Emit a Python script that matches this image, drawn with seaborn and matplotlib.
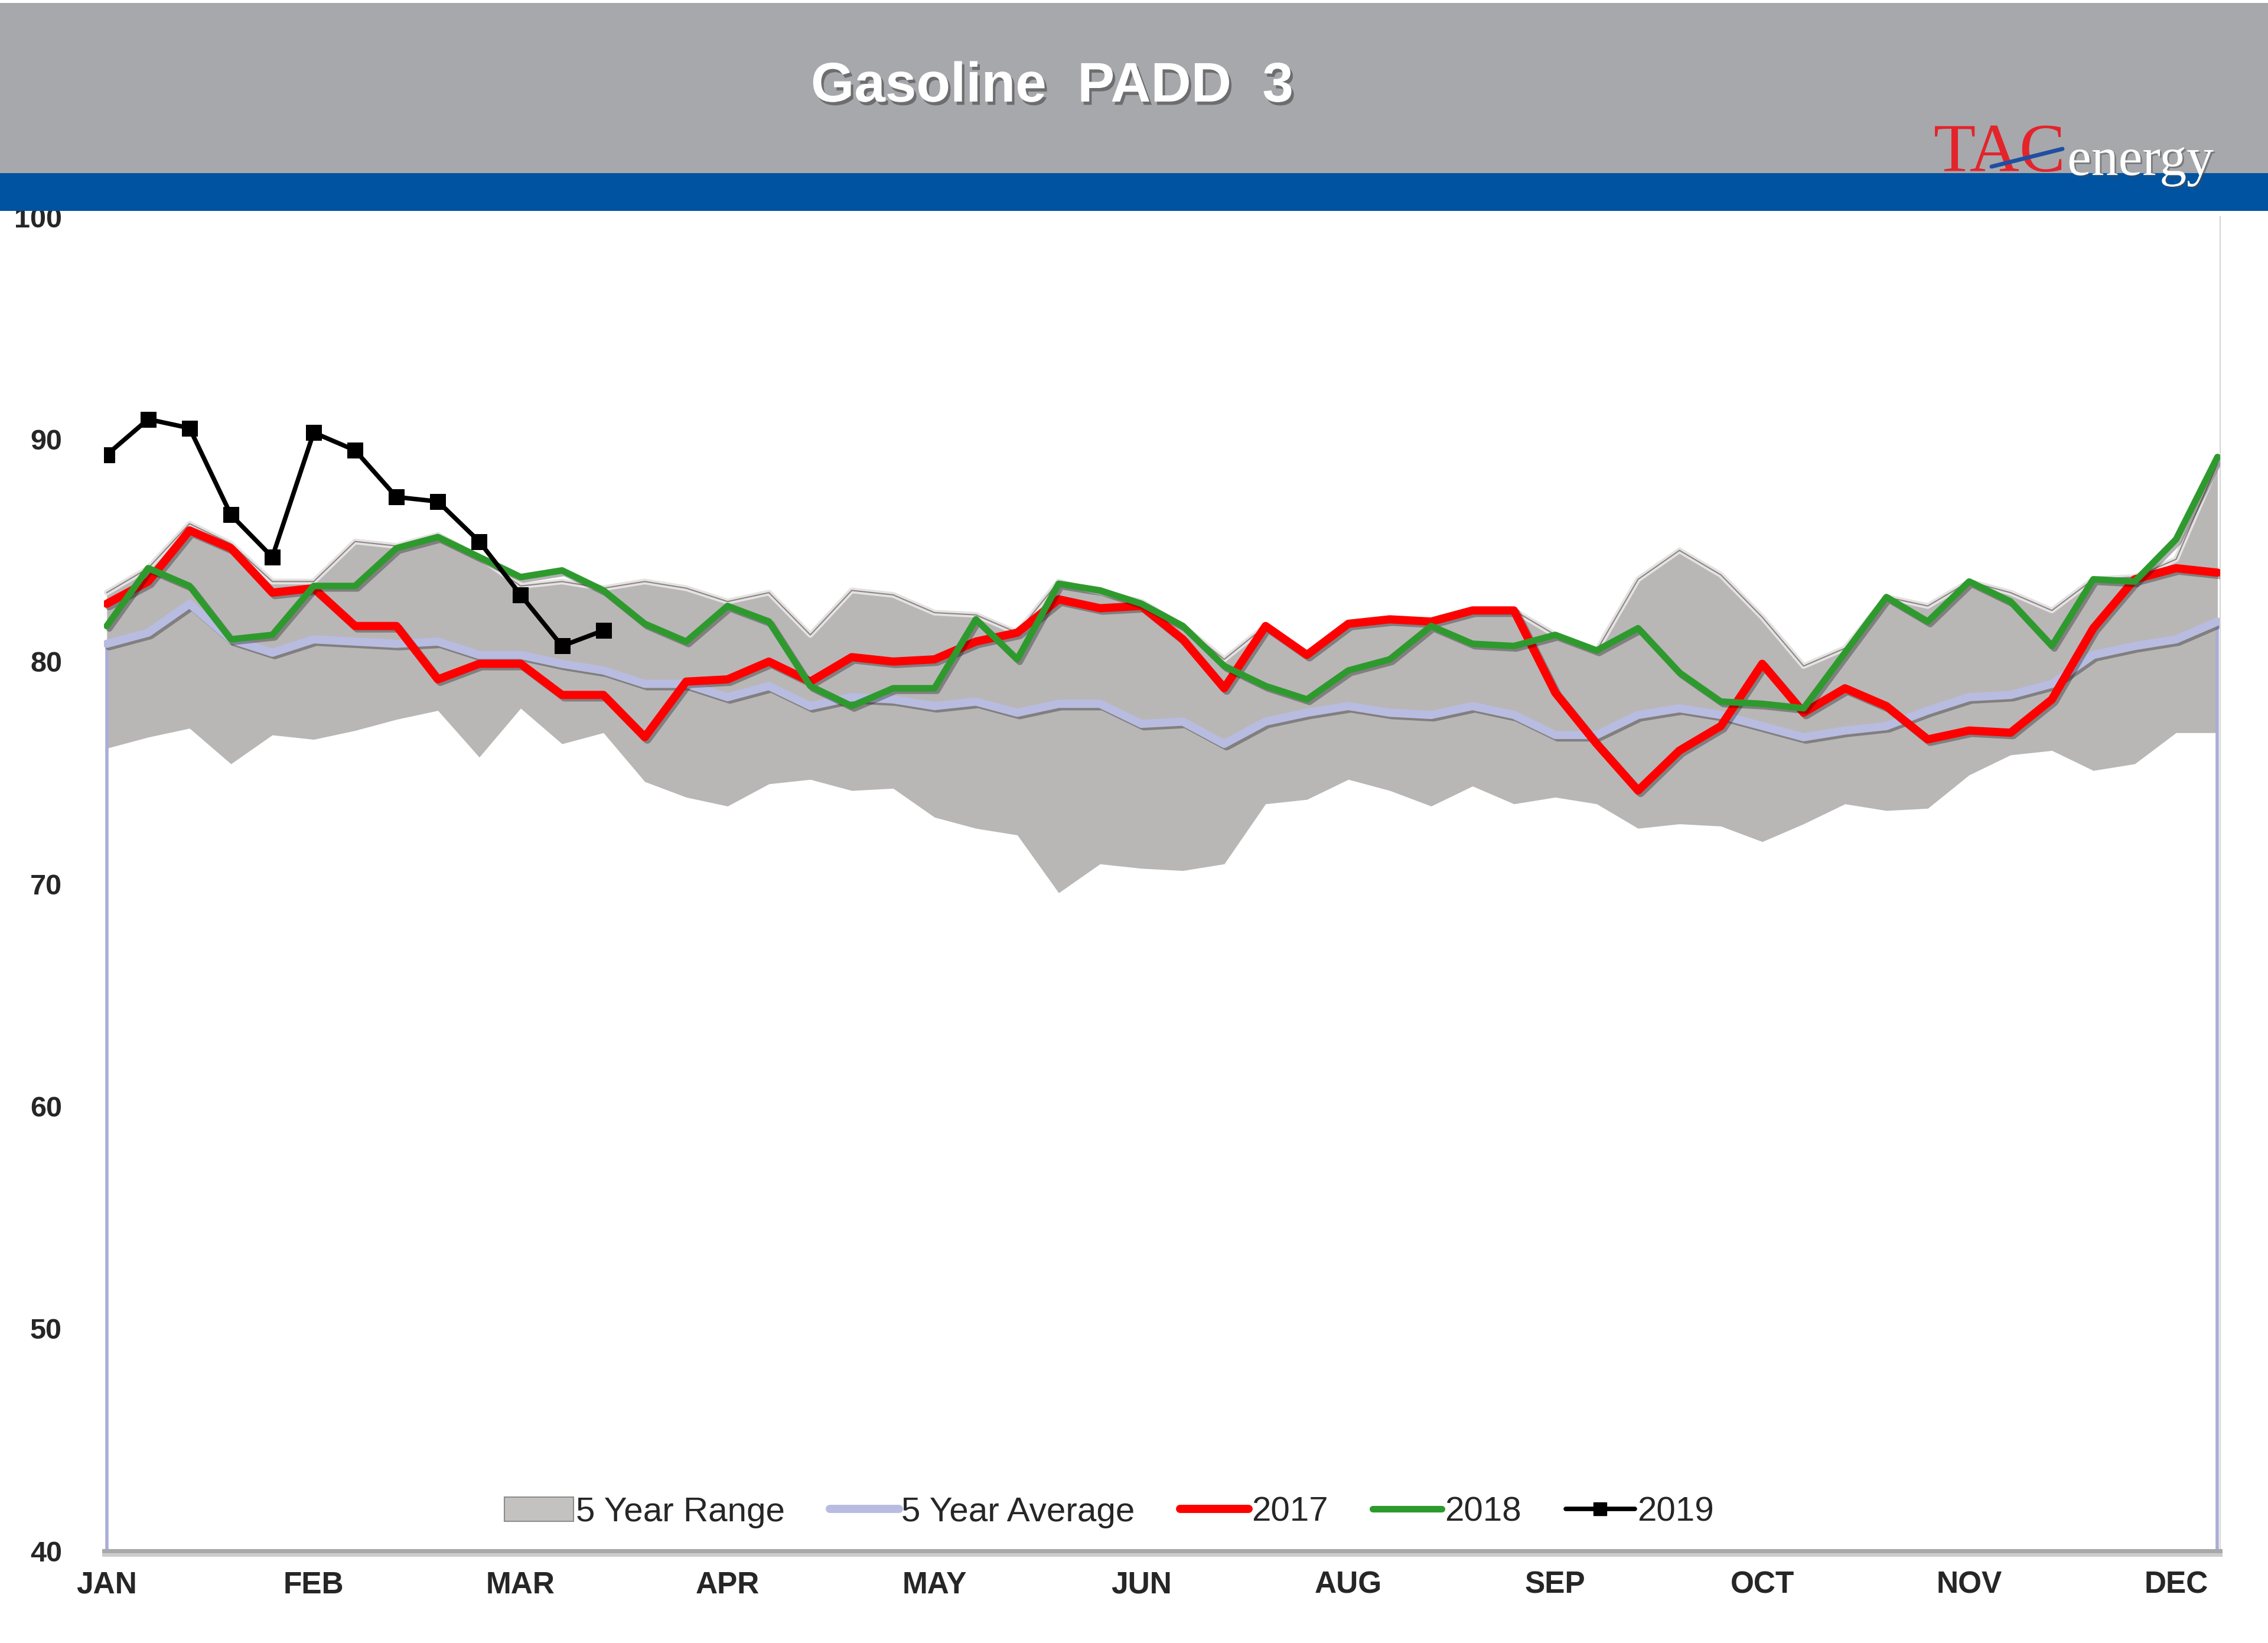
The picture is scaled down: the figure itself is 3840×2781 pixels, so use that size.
import numpy as np
import pandas as pd
import matplotlib
matplotlib.use("Agg")
import matplotlib.pyplot as plt
import matplotlib.patheffects as pe
from matplotlib.patches import Rectangle, Patch
from matplotlib.lines import Line2D
import seaborn as sns

sns.set_style("white")

# Weekly data, 52 weeks
weeks = np.arange(52)
month_labels = ["JAN", "FEB", "MAR", "APR", "MAY", "JUN", "AUG", "SEP", "OCT", "NOV", "DEC"]

range_high = [83.1, 84.2, 86.2, 85.3, 83.6, 83.6, 85.4, 85.2, 85.7, 84.7,
              83.4, 83.6, 83.3, 83.6, 83.3, 82.7, 83.1, 81.2, 83.2, 83.0,
              82.2, 82.1, 81.3, 83.6, 83.1, 82.7, 81.6, 80.1, 81.6, 80.3,
              81.7, 81.9, 81.8, 82.3, 82.3, 81.2, 80.5, 83.7, 85.0, 83.9,
              82.0, 79.8, 80.6, 82.9, 82.5, 83.6, 83.1, 82.3, 83.7, 83.8,
              84.6, 88.9]
range_low = [76.1, 76.6, 77.0, 75.4, 76.7, 76.5, 76.9, 77.4, 77.8, 75.7,
             77.9, 76.3, 76.8, 74.6, 73.9, 73.5, 74.5, 74.7, 74.2, 74.3,
             73.0, 72.5, 72.2, 69.6, 70.9, 70.7, 70.6, 70.9, 73.6, 73.8,
             74.7, 74.2, 73.5, 74.4, 73.6, 73.9, 73.6, 72.5, 72.7, 72.6,
             71.9, 72.7, 73.6, 73.3, 73.4, 74.9, 75.8, 76.0, 75.1, 75.4,
             76.8, 76.8]
avg5 = [80.8, 81.3, 82.6, 81.0, 80.4, 81.0, 80.9, 80.8, 80.9, 80.3,
        80.3, 79.9, 79.6, 79.0, 79.0, 78.4, 78.9, 78.0, 78.4, 78.3,
        78.0, 78.2, 77.7, 78.1, 78.1, 77.2, 77.3, 76.3, 77.3, 77.7,
        78.0, 77.7, 77.6, 78.0, 77.6, 76.7, 76.7, 77.6, 77.9, 77.6,
        77.1, 76.6, 76.9, 77.1, 77.8, 78.4, 78.5, 79.0, 80.3, 80.7,
        81.0, 81.8]
y2017 = [82.6, 83.6, 85.9, 85.1, 83.1, 83.3, 81.6, 81.6, 79.2, 79.9,
         79.9, 78.5, 78.5, 76.6, 79.1, 79.2, 80.0, 79.1, 80.2, 80.0,
         80.1, 80.9, 81.3, 82.8, 82.4, 82.5, 81.0, 78.8, 81.6, 80.3,
         81.7, 81.9, 81.8, 82.3, 82.3, 78.6, 76.3, 74.2, 76.0, 77.1,
         79.9, 77.7, 78.8, 78.0, 76.5, 76.9, 76.8, 78.3, 81.5, 83.7,
         84.2, 84.0]
y2018 = [81.6, 84.2, 83.4, 81.0, 81.2, 83.4, 83.4, 85.1, 85.6, 84.7,
         83.8, 84.1, 83.2, 81.7, 80.9, 82.5, 81.8, 78.9, 78.0, 78.8,
         78.8, 81.9, 80.1, 83.5, 83.2, 82.6, 81.6, 79.8, 78.9, 78.3,
         79.6, 80.1, 81.6, 80.8, 80.7, 81.2, 80.5, 81.5, 79.5, 78.2,
         78.1, 77.9, 80.4, 82.9, 81.8, 83.6, 82.7, 80.7, 83.7, 83.6,
         85.5, 89.2]
y2019 = [89.3, 90.9, 90.5, 86.6, 84.7, 90.3, 89.5, 87.4, 87.2, 85.4,
         83.0, 80.7, 81.4]

c_range = "#B9B6B6"
c_avg = "#B8BCE0"
c_2017 = "#FF0000"
c_2018 = "#2E9A2E"

fig = plt.figure(figsize=(38.4, 27.81), dpi=100)
ax = fig.add_axes([0.0458, 0.056, 0.979 - 0.0458, 0.868 - 0.056])

shadow = [pe.SimpleLineShadow(offset=(3, -3), alpha=0.3), pe.Normal()]

# 5 year range
ax.fill_between(weeks, range_low, range_high, color=c_range, lw=0, zorder=1)
ax.plot(weeks, range_high, color="#E4E2E2", lw=7, zorder=1.1,
        solid_joinstyle="round")
ax.plot(weeks, range_high, color="#8E8484", lw=1.5, zorder=1.2)

# 5 year average (with the Excel style drop lines at both ends)
ax.vlines([weeks[0], weeks[-1]], 40, [avg5[0], avg5[-1]], color="#A9ADD6", lw=4, zorder=1.5)
sns.lineplot(x=weeks, y=avg5, color=c_avg, linewidth=10, ax=ax, legend=False)
ax.lines[-1].set_path_effects(shadow)
ax.lines[-1].set_zorder(2)

sns.lineplot(x=weeks, y=y2017, color=c_2017, linewidth=10, ax=ax, legend=False)
ax.lines[-1].set_path_effects(shadow)
ax.lines[-1].set_zorder(3)
sns.lineplot(x=weeks, y=y2018, color=c_2018, linewidth=8, ax=ax, legend=False)
ax.lines[-1].set_path_effects(shadow)
ax.lines[-1].set_zorder(4)
sns.lineplot(x=weeks[:len(y2019)], y=y2019, color="black", linewidth=5.5,
             marker="s", markersize=19, markeredgecolor="black", ax=ax, legend=False)
ax.lines[-1].set_zorder(5)

ax.set_xlim(-0.07, 51.07)
ax.set_ylim(40, 100)
ax.set_yticks(range(40, 101, 10))
ax.set_xticks(weeks[::5])
ax.set_xticklabels(month_labels)
ax.set_xlabel("")
ax.set_ylabel("")
ax.tick_params(axis="y", length=0, pad=51, labelsize=35)
ax.tick_params(axis="x", length=0, pad=24, labelsize=37)
for lbl in ax.get_yticklabels() + ax.get_xticklabels():
    lbl.set_family(["Liberation Sans Narrow", "Liberation Sans", "DejaVu Sans"])
    lbl.set_weight("bold")
for lbl in ax.get_xticklabels():
    lbl.set_family(["Liberation Sans", "DejaVu Sans"])

for s in ["top", "left"]:
    ax.spines[s].set_visible(False)
ax.spines["right"].set_color("#D4D4D4")
ax.spines["right"].set_linewidth(1.5)
ax.spines["bottom"].set_color("#A8A8A8")
ax.spines["bottom"].set_linewidth(5)
ax.spines["bottom"].set_path_effects([pe.SimpleLineShadow(offset=(0, -4), alpha=0.2), pe.Normal()])

# legend
handles = [
    Patch(facecolor="#C4C1C1", edgecolor="#8C8C8C", linewidth=1.5),
    Line2D([], [], color=c_avg, lw=10),
    Line2D([], [], color=c_2017, lw=10),
    Line2D([], [], color=c_2018, lw=8),
    Line2D([], [], color="black", lw=5.5, marker="s", markersize=16),
]
leg = ax.legend(handles, ["5 Year Range", "5 Year Average", "2017", "2018", "2019"],
                loc="center", bbox_to_anchor=(0.475, 0.029), ncol=5, frameon=False,
                handlelength=2.0, handletextpad=0.08, columnspacing=1.3,
                prop={"family": ["Liberation Sans", "DejaVu Sans"], "size": 42})

# header bands
fig.add_artist(Rectangle((0, 1 - 293 / 2781), 1, (293 - 5) / 2781, transform=fig.transFigure,
                         facecolor="#A7A8AC", edgecolor="none", zorder=1))
fig.add_artist(Rectangle((0, 1 - 357 / 2781), 1, 64 / 2781, transform=fig.transFigure,
                         facecolor="#0053A1", edgecolor="none", zorder=1))

fig.text(0.464, 0.947, "Gasoline  PADD  3", color="white", fontsize=68, fontweight="bold",
         family=["Liberation Sans", "DejaVu Sans"], ha="center", va="center",
         path_effects=[pe.SimplePatchShadow(offset=(3, -4), shadow_rgbFace="#555555", alpha=0.7),
                       pe.Normal()])

# TAC energy logo
fig.text(0.8526, 0.8957, "TAC", color="#E3242B", fontsize=84,
         family=["Liberation Serif", "DejaVu Serif"], ha="left", va="baseline")
fig.text(0.9115, 0.8935, "energy", color="white", fontsize=66,
         family=["Liberation Serif", "DejaVu Serif"], ha="left", va="baseline",
         path_effects=[pe.SimplePatchShadow(offset=(2, -2), alpha=0.5), pe.Normal()])
fig.add_artist(Line2D([3372 / 3840, 3492 / 3840], [1 - 282 / 2781, 1 - 252 / 2781],
                      transform=fig.transFigure, color="#1F4FA0", lw=5, zorder=4))

fig.savefig("out.png", dpi=100, facecolor="white")
